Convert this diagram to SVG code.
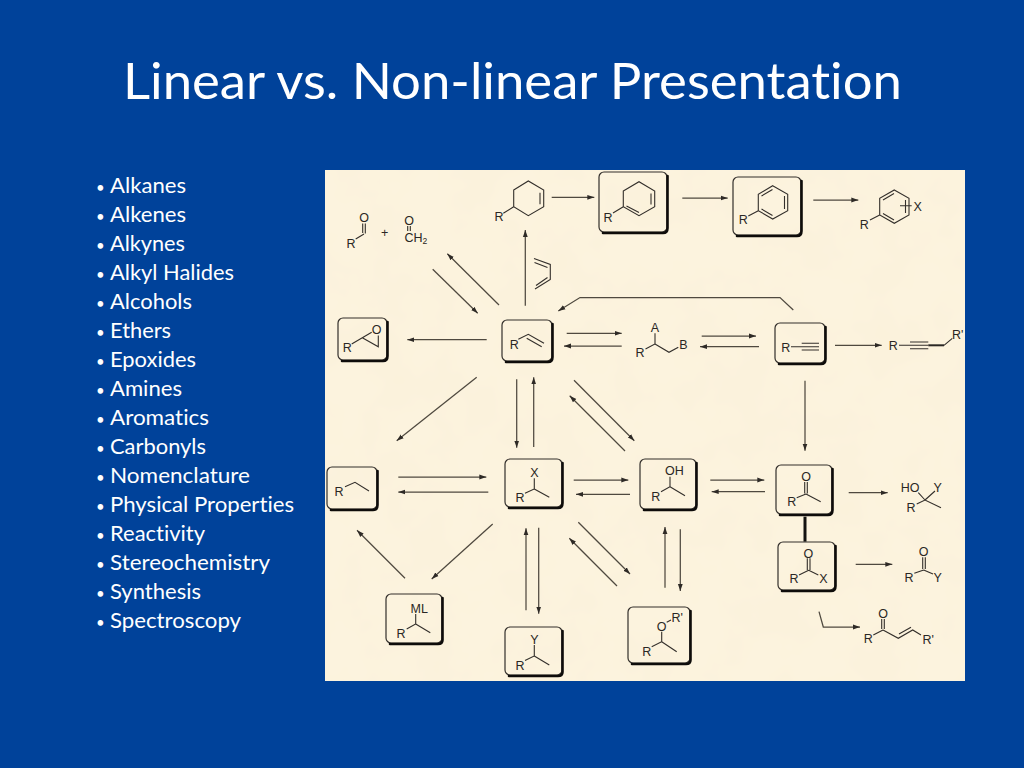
<svg xmlns="http://www.w3.org/2000/svg" width="1024" height="768" viewBox="0 0 1024 768">
<defs>
<marker id="ah" markerUnits="userSpaceOnUse" markerWidth="8" markerHeight="6" refX="7" refY="3" orient="auto"><path d="M0 0.6L7 3L0 5.4Z" fill="#2e2a26"/></marker>
<filter id="mottle" x="0" y="0" width="100%" height="100%"><feTurbulence type="fractalNoise" baseFrequency="0.022" numOctaves="3" seed="4"/><feColorMatrix values="0 0 0 0 0.95  0 0 0 0 0.87  0 0 0 0 0.68  0.8 0 0 0 -0.27"/></filter>
<style>
text{font-family:"Liberation Sans",Arial,sans-serif}
.t,.t text{font-family:Lato,"Open Sans",sans-serif;fill:#fff;font-variant-ligatures:none}
.li{font-size:22px}
.d{font-size:15px}
.a{font-size:12.5px;fill:#2a2724;text-anchor:middle}
.b{fill:none;stroke:#332f2b;stroke-width:1.2}
.s{fill:none;stroke:#0e0c0a;stroke-width:2.6;stroke-linejoin:round;stroke-linecap:round}
.m{fill:none;stroke:#332f2b;stroke-width:1.1}
.c line,.c polyline{fill:none;stroke:#4f493f;stroke-width:1.25}
.c .h{marker-end:url(#ah)}
</style>
</defs>
<rect width="1024" height="768" fill="#00429a"/>
<text class="t" x="123" y="99" font-size="50" textLength="779" lengthAdjust="spacingAndGlyphs">Linear vs. Non-linear Presentation</text>
<g id="topics" class="t li">
<text x="96" y="192.5"><tspan class="d">•</tspan><tspan x="110" textLength="76" lengthAdjust="spacingAndGlyphs">Alkanes</tspan></text>
<text x="96" y="221.5"><tspan class="d">•</tspan><tspan x="110" textLength="76" lengthAdjust="spacingAndGlyphs">Alkenes</tspan></text>
<text x="96" y="250.5"><tspan class="d">•</tspan><tspan x="110" textLength="75" lengthAdjust="spacingAndGlyphs">Alkynes</tspan></text>
<text x="96" y="279.5"><tspan class="d">•</tspan><tspan x="110" textLength="124" lengthAdjust="spacingAndGlyphs">Alkyl Halides</tspan></text>
<text x="96" y="308.5"><tspan class="d">•</tspan><tspan x="110" textLength="82" lengthAdjust="spacingAndGlyphs">Alcohols</tspan></text>
<text x="96" y="337.5"><tspan class="d">•</tspan><tspan x="110" textLength="61" lengthAdjust="spacingAndGlyphs">Ethers</tspan></text>
<text x="96" y="366.5"><tspan class="d">•</tspan><tspan x="110" textLength="86" lengthAdjust="spacingAndGlyphs">Epoxides</tspan></text>
<text x="96" y="395.5"><tspan class="d">•</tspan><tspan x="110" textLength="72" lengthAdjust="spacingAndGlyphs">Amines</tspan></text>
<text x="96" y="424.5"><tspan class="d">•</tspan><tspan x="110" textLength="99" lengthAdjust="spacingAndGlyphs">Aromatics</tspan></text>
<text x="96" y="453.5"><tspan class="d">•</tspan><tspan x="110" textLength="96" lengthAdjust="spacingAndGlyphs">Carbonyls</tspan></text>
<text x="96" y="482.5"><tspan class="d">•</tspan><tspan x="110" textLength="140" lengthAdjust="spacingAndGlyphs">Nomenclature</tspan></text>
<text x="96" y="511.5"><tspan class="d">•</tspan><tspan x="110" textLength="184" lengthAdjust="spacingAndGlyphs">Physical Properties</tspan></text>
<text x="96" y="540.5"><tspan class="d">•</tspan><tspan x="110" textLength="95" lengthAdjust="spacingAndGlyphs">Reactivity</tspan></text>
<text x="96" y="569.5"><tspan class="d">•</tspan><tspan x="110" textLength="160" lengthAdjust="spacingAndGlyphs">Stereochemistry</tspan></text>
<text x="96" y="598.5"><tspan class="d">•</tspan><tspan x="110" textLength="91" lengthAdjust="spacingAndGlyphs">Synthesis</tspan></text>
<text x="96" y="627.5"><tspan class="d">•</tspan><tspan x="110" textLength="131" lengthAdjust="spacingAndGlyphs">Spectroscopy</tspan></text>
</g>
<rect id="panel" x="325" y="170" width="640" height="511" fill="#fcf3de"/>
<rect x="325" y="170" width="640" height="511" filter="url(#mottle)"/>
<g id="connectors" class="c">
<line class="h" x1="551.7" y1="197.3" x2="594.3" y2="197.3"/>
<line class="h" x1="682.3" y1="198" x2="727.7" y2="198"/>
<line class="h" x1="813.3" y1="200" x2="858.3" y2="200"/>
<line class="h" x1="525.3" y1="305.7" x2="525.3" y2="230"/>
<line class="h" x1="499" y1="305" x2="447.3" y2="253.7"/>
<line class="h" x1="432.7" y1="269.3" x2="477.7" y2="313.3"/>
<line class="h" x1="486.7" y1="339.7" x2="407.3" y2="339.7"/>
<line class="h" x1="566.7" y1="333.3" x2="621.7" y2="333.3"/>
<line class="h" x1="621.7" y1="346" x2="564" y2="346"/>
<line class="h" x1="701.7" y1="336" x2="756" y2="336"/>
<line class="h" x1="759" y1="346.7" x2="700" y2="346.7"/>
<line class="h" x1="835" y1="345.3" x2="881.7" y2="345.3"/>
<polyline class="h" points="793.3,310 780,297.5 580,297.5 558.3,311"/>
<line class="h" x1="476.7" y1="377.3" x2="396.7" y2="440.7"/>
<line class="h" x1="516.7" y1="379.3" x2="516.7" y2="447.7"/>
<line class="h" x1="533.7" y1="447" x2="533.7" y2="377.3"/>
<line class="h" x1="574" y1="380.3" x2="634.3" y2="440.7"/>
<line class="h" x1="625" y1="451" x2="569.7" y2="395.7"/>
<line class="h" x1="805" y1="380.7" x2="805" y2="450.7"/>
<line class="h" x1="398.3" y1="477" x2="486.3" y2="477"/>
<line class="h" x1="488.3" y1="492" x2="398.3" y2="492"/>
<line class="h" x1="573.7" y1="480" x2="628.3" y2="480"/>
<line class="h" x1="630" y1="494.3" x2="576" y2="494.3"/>
<line class="h" x1="710.3" y1="480" x2="764.3" y2="480"/>
<line class="h" x1="765" y1="491.7" x2="711.7" y2="491.7"/>
<line class="h" x1="848.7" y1="492.7" x2="887.7" y2="492.7"/>
<line class="h" x1="492.7" y1="524" x2="431.7" y2="579"/>
<line class="h" x1="405" y1="578.3" x2="357" y2="530.3"/>
<line class="h" x1="526" y1="610.3" x2="526" y2="528.3"/>
<line class="h" x1="538.7" y1="527.7" x2="538.7" y2="613.7"/>
<line class="h" x1="578.3" y1="522.3" x2="630" y2="574"/>
<line class="h" x1="617" y1="586" x2="569.3" y2="538.3"/>
<line class="h" x1="665" y1="587.7" x2="665" y2="527"/>
<line class="h" x1="680.3" y1="529.3" x2="680.3" y2="591"/>
<line class="h" x1="855.7" y1="564.3" x2="892.3" y2="564.3"/>
<polyline class="h" points="819,611.7 823.3,627 860,627"/>
<line x1="805" y1="516.7" x2="805" y2="541.7" style="stroke:#141210;stroke-width:3"/>
</g>
<g id="reagent-diene"><path class="m" d="M534 258.5L550.3 264.5V279.5L535 289M534.500 262.500L547.500 267.500M536 285.500L547.500 277.500"/></g>
<g id="aldehyde"><text class="a" x="364" y="222">O</text><text class="a" x="351" y="247.500">R</text><path class="m" d="M362.700 223.500V233M365.300 223.500V233.500M364 234L355.700 239"/></g>
<g id="plus"><text class="a" x="384.700" y="237">+</text></g>
<g id="formaldehyde"><text class="a" x="409" y="224.500">O</text><path class="m" d="M407.700 226V231M410.300 226V231"/><text class="a" x="404.500" y="242" style="text-anchor:start">CH<tspan font-size="8.500" dy="2">2</tspan></text></g>
<g id="cyclohexene"><path class="m" d="M513.700 190L528.300 181L543.700 190V206.700L528.300 215.700L513.700 206.700ZM540 192.700V204.300M513.700 206.700L503.300 213.300"/><text class="a" x="499" y="220.500">R</text></g>
<g id="cyclohexadiene"><rect class="b" x="599" y="172" width="68" height="60" rx="5"/><path class="s" d="M667.500 176V228Q667.500 233 663 233H603"/><path class="m" d="M623.300 191L639 181.700L654.700 191V206.700L639 215.700L623.300 206.700ZM651 193.500V204.500M626.500 206L639 212.500M623.300 206.700L613 213"/><text class="a" x="608" y="221.500">R</text></g>
<g id="benzene"><rect class="b" x="733" y="177" width="68" height="58" rx="5"/><path class="s" d="M801.500 181V231Q801.500 236 797 236H737"/><path class="m" d="M772.700 185.700L787.700 194.300V210.700L772.700 219L758.300 210.700V194.300ZM761.500 196L772.500 189.500M784.500 196V209M761.500 209L772.500 215.500M758.300 210.700L748.300 216"/><text class="a" x="743.300" y="224">R</text></g>
<g id="aryl-x"><path class="m" d="M894.300 190L909 198.300V215L894.300 223.300L879.700 215V198.300ZM883 200L894 193.500M905.500 200V213M883 213.500L894 220M879.700 215L870 220M900 205.700H911.700"/><text class="a" x="864.300" y="228.500">R</text><text class="a" x="917.700" y="210.500">X</text></g>
<g id="epoxide"><rect class="b" x="338" y="318" width="49" height="42" rx="5"/><path class="s" d="M387.500 322V356Q387.500 361 383 361H342"/><path class="m" d="M351.700 344L362.300 337.700L371.700 332.200M378.300 335.500V346.700L362.300 337.700"/><text class="a" x="376.700" y="334">O</text><text class="a" x="347.300" y="351.800">R</text></g>
<g id="alkene"><rect class="b" x="502" y="320" width="50" height="41" rx="5"/><path class="s" d="M552.500 324V357Q552.500 362 548 362H506"/><path class="m" d="M518.300 339.300L528.300 334.300L544 343.300M526.700 338.300L541.700 346.700"/><text class="a" x="514.300" y="348.500">R</text></g>
<g id="dihalide"><path class="m" d="M655 333.300V344L645.500 349M655 344L669 352.300L678.300 347.300"/><text class="a" x="655" y="331.500">A</text><text class="a" x="640" y="356.800">R</text><text class="a" x="683.300" y="348.500">B</text></g>
<g id="alkyne"><rect class="b" x="775" y="323" width="50" height="40" rx="5"/><path class="s" d="M825.500 327V359Q825.500 364 821 364H779"/><path class="m" d="M791 346.700H819M801.700 343.300H819M801.700 350H819"/><text class="a" x="785.700" y="351.800">R</text></g>
<g id="internal-alkyne"><path class="m" d="M899 345.300H928.300M910 342H928.300M910 348.700H928.300M944 345.300L952.300 338.300"/><path d="M928.300 345.300H944" stroke="#2a2724" stroke-width="2"/><text class="a" x="893.300" y="350">R</text><text class="a" x="957.700" y="338.500">R'</text></g>
<g id="alkane"><rect class="b" x="327" y="467" width="50" height="42" rx="5"/><path class="s" d="M377.500 471V505Q377.500 510 373 510H331"/><path class="m" d="M345 486.700L355 482.300L369 491"/><text class="a" x="339" y="495.500">R</text></g>
<g id="halide"><rect class="b" x="505" y="459" width="57" height="48" rx="5"/><path class="s" d="M562.500 463V503Q562.500 508 558 508H509"/><path class="m" d="M534.300 478.300V489L525 493.300M534.300 489L549.300 497.300"/><text class="a" x="534.300" y="477">X</text><text class="a" x="520" y="502">R</text></g>
<g id="alcohol"><rect class="b" x="640" y="459" width="56" height="50" rx="5"/><path class="s" d="M696.500 463V505Q696.500 510 692 510H644"/><path class="m" d="M670 476.700V486.700L661 491.700M670 486.700L685 495.700"/><text class="a" x="674.300" y="475">OH</text><text class="a" x="655.700" y="500.500">R</text></g>
<g id="ketone"><rect class="b" x="776" y="465" width="56" height="49" rx="5"/><path class="s" d="M832.500 469V510Q832.500 515 828 515H780"/><path class="m" d="M804.700 482V493.500M807.300 482V493.500M806 494L796.700 497.700M806 494L820.700 501.700"/><text class="a" x="806" y="480.500">O</text><text class="a" x="791.700" y="506">R</text></g>
<g id="tertiary-alcohol"><path class="m" d="M916.700 504L925 500L941 507.700M925 500L935 491M925 500L918.300 492.700"/><text class="a" x="910" y="491.800">HO</text><text class="a" x="937.700" y="491.800">Y</text><text class="a" x="911" y="512.200">R</text></g>
<g id="acyl-x"><rect class="b" x="778" y="542" width="57" height="48" rx="5"/><path class="s" d="M835.500 546V586Q835.500 591 831 591H782"/><path class="m" d="M807.300 558.300V570M810 558.300V570M808.700 570.300L799 575M808.700 570.300L818.300 575"/><text class="a" x="808.300" y="557.800">O</text><text class="a" x="794" y="583.200">R</text><text class="a" x="823.300" y="583.200">X</text></g>
<g id="acyl-y"><path class="m" d="M922.700 557.300V569M925.300 557.300V569M923.700 570L914.300 573.300M923.700 570L933 574"/><text class="a" x="923.700" y="556.200">O</text><text class="a" x="909" y="582.200">R</text><text class="a" x="937.700" y="582.200">Y</text></g>
<g id="enone"><path class="m" d="M881.700 619V629M884.300 619V629M883 630L873.300 635M883 630L898.300 638.300L912.700 630L921 635M899 634L911 627.300"/><text class="a" x="883" y="617.800">O</text><text class="a" x="868.300" y="643.200">R</text><text class="a" x="928.300" y="643.500">R'</text></g>
<g id="organometallic"><rect class="b" x="386" y="594" width="56" height="49" rx="5"/><path class="s" d="M442.500 598V640Q442.500 644 438 644H390"/><path class="m" d="M415.700 614V624L406.700 629M415.700 624L430.300 632.700"/><text class="a" x="419.300" y="612.800">ML</text><text class="a" x="401" y="637.800">R</text></g>
<g id="substituted"><rect class="b" x="505" y="627" width="57" height="48" rx="5"/><path class="s" d="M562.500 631V672Q562.500 676 558 676H509"/><path class="m" d="M534.300 645V656L525 660.500M534.300 656L549.300 665"/><text class="a" x="534.300" y="643.800">Y</text><text class="a" x="520" y="669.500">R</text></g>
<g id="ether"><rect class="b" x="628" y="607" width="62" height="56" rx="5"/><path class="s" d="M690.500 611V660Q690.500 664 686 664H632"/><path class="m" d="M666.700 622.300L671 620M661.700 631.700V641.700L651.700 646.700M661.700 641.700L676.700 651.700"/><text class="a" x="661.700" y="630.500">O</text><text class="a" x="677.300" y="622.200">R'</text><text class="a" x="646.700" y="656.200">R</text></g>
</svg>
